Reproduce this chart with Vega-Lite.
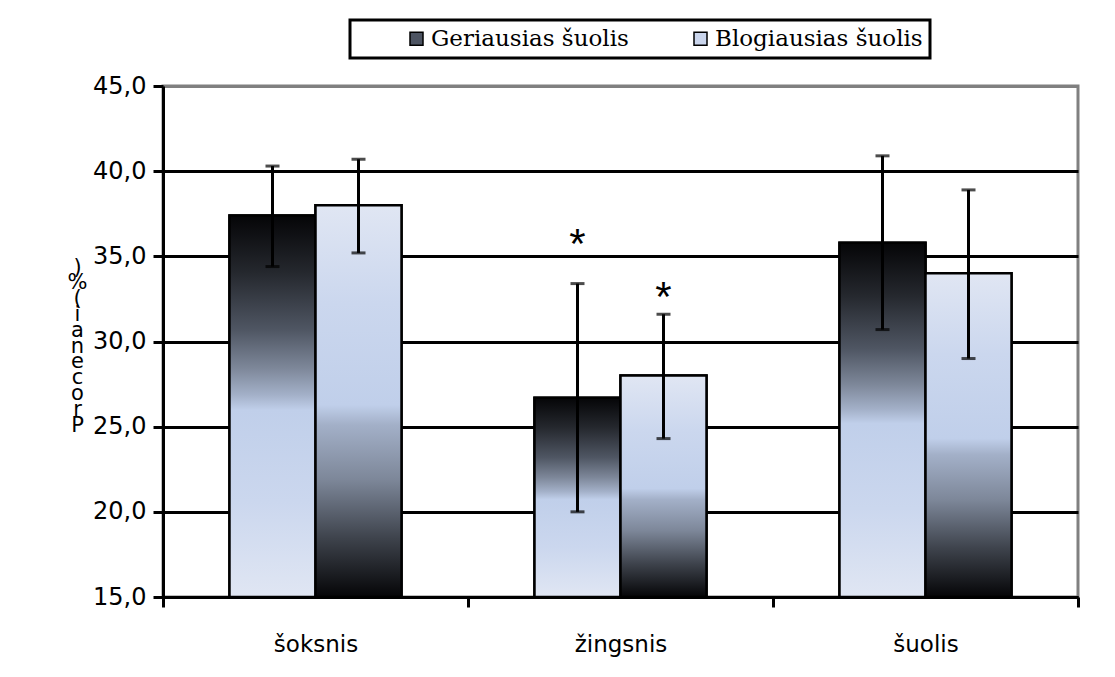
{
  "$schema": "https://vega.github.io/schema/vega-lite/v6.json",
  "width": 915,
  "height": 511,
  "autosize": {"type": "none"},
  "padding": {"left": 163, "top": 86, "right": 37, "bottom": 80},
  "background": "white",
  "config": {
    "view": {"stroke": "#808080", "strokeWidth": 3},
    "font": "DejaVu Sans"
  },
  "data": {
    "values": [
      {"cat": "šoksnis", "series": "Geriausias šuolis", "mean": 37.4, "lo": 34.4, "hi": 40.3, "star": null},
      {"cat": "šoksnis", "series": "Blogiausias šuolis", "mean": 38.0, "lo": 35.2, "hi": 40.7, "star": null},
      {"cat": "žingsnis", "series": "Geriausias šuolis", "mean": 26.7, "lo": 20.0, "hi": 33.4, "star": 36.0},
      {"cat": "žingsnis", "series": "Blogiausias šuolis", "mean": 28.0, "lo": 24.3, "hi": 31.6, "star": 32.9},
      {"cat": "šuolis", "series": "Geriausias šuolis", "mean": 35.8, "lo": 30.7, "hi": 40.9, "star": null},
      {"cat": "šuolis", "series": "Blogiausias šuolis", "mean": 34.0, "lo": 29.0, "hi": 38.9, "star": null}
    ]
  },
  "encoding": {
    "x": {
      "field": "cat",
      "type": "nominal",
      "sort": ["šoksnis", "žingsnis", "šuolis"],
      "scale": {"paddingInner": 0, "paddingOuter": 0},
      "axis": {
        "title": null,
        "labelAngle": 0,
        "labelFont": "DejaVu Sans",
        "labelFontSize": 23,
        "labelColor": "black",
        "labelPadding": 26,
        "tickBand": "extent",
        "ticks": true,
        "tickSize": 10,
        "tickWidth": 3,
        "tickColor": "black",
        "domainColor": "black",
        "domainWidth": 3,
        "grid": false
      }
    },
    "xOffset": {
      "field": "series",
      "type": "nominal",
      "sort": ["Geriausias šuolis", "Blogiausias šuolis"],
      "scale": {"paddingInner": 0, "paddingOuter": 0.773}
    },
    "y": {
      "field": "mean",
      "type": "quantitative",
      "scale": {"domain": [15, 45], "nice": false, "zero": false},
      "axis": {
        "values": [15, 20, 25, 30, 35, 40, 45],
        "labelExpr": "replace(format(datum.value, '.1f'), '.', ',')",
        "labelFont": "DejaVu Sans",
        "labelFontSize": 24,
        "labelColor": "black",
        "labelPadding": 7,
        "tickSize": 10,
        "tickWidth": 3,
        "tickColor": "black",
        "domainColor": "black",
        "domainWidth": 3,
        "grid": true,
        "gridColor": {"condition": {"test": "datum.value == 45", "value": "#808080"}, "value": "black"},
        "gridWidth": 3,
        "title": [")", "%", "(", "i", "a", "n", "e", "c", "o", "r", "P"],
        "titleAngle": 0,
        "titleFont": "DejaVu Sans",
        "titleFontSize": 21,
        "titleFontWeight": "normal",
        "titleColor": "black",
        "titleLineHeight": 15.8,
        "titleX": -86,
        "titleY": 170,
        "titleAlign": "center",
        "titleBaseline": "top"
      }
    }
  },
  "layer": [
    {
      "mark": {"type": "bar", "stroke": "black", "strokeWidth": 2.5},
      "encoding": {
        "y2": {"datum": 15},
        "fill": {
          "field": "series",
          "type": "nominal",
          "sort": ["Geriausias šuolis", "Blogiausias šuolis"],
          "scale": {"domain": ["Geriausias šuolis", "Blogiausias šuolis"], "range": ["#4d5462", "#cad5ec"]},
          "legend": {
            "title": null,
            "orient": "none",
            "legendX": 187,
            "legendY": -66,
            "direction": "horizontal",
            "padding": 7,
            "strokeColor": "black",
            "fillColor": "white",
            "symbolType": "square",
            "symbolSize": 169,
            "symbolOffset": 48,
            "symbolStrokeColor": "black",
            "symbolStrokeWidth": 1.5,
            "labelFont": "DejaVu Serif",
            "labelFontSize": 23,
            "labelColor": "black",
            "labelOffset": 3,
            "labelLimit": 400,
            "columnPadding": 12,
            "encode": {"legend": {"update": {"strokeWidth": {"value": 3}}}}
          }
        }
      }
    },
    {
      "mark": {"type": "bar", "stroke": "black", "strokeWidth": 2.5},
      "encoding": {
        "y2": {"datum": 15},
        "fill": {
          "condition": {
            "test": "datum.series === 'Geriausias šuolis'",
            "value": {"gradient": "linear", "x1": 0, "y1": 0, "x2": 0, "y2": 1,
              "stops": [
                {"offset": 0, "color": "#050507"},
                {"offset": 0.15, "color": "#25282e"},
                {"offset": 0.3, "color": "#4f5663"},
                {"offset": 0.4, "color": "#7d8799"},
                {"offset": 0.47, "color": "#a3b0c8"},
                {"offset": 0.51, "color": "#c0cfea"},
                {"offset": 0.75, "color": "#cbd7ee"},
                {"offset": 1, "color": "#e0e6f3"}
              ]}
          },
          "value": {"gradient": "linear", "x1": 0, "y1": 0, "x2": 0, "y2": 1,
            "stops": [
              {"offset": 0, "color": "#e0e6f3"},
              {"offset": 0.25, "color": "#cbd7ee"},
              {"offset": 0.51, "color": "#c0cfea"},
              {"offset": 0.56, "color": "#a3b0c8"},
              {"offset": 0.7, "color": "#7d8799"},
              {"offset": 0.85, "color": "#3e434c"},
              {"offset": 1, "color": "#050507"}
            ]}
        }
      }
    },
    {
      "mark": {"type": "rule", "stroke": "black", "strokeWidth": 3},
      "encoding": {
        "y": {"field": "lo", "type": "quantitative"},
        "y2": {"field": "hi"}
      }
    },
    {
      "mark": {"type": "tick", "color": "black", "size": 14, "thickness": 3, "orient": "horizontal"},
      "encoding": {"y": {"field": "lo", "type": "quantitative"}}
    },
    {
      "mark": {"type": "tick", "color": "black", "size": 14, "thickness": 3, "orient": "horizontal"},
      "encoding": {"y": {"field": "hi", "type": "quantitative"}}
    },
    {
      "transform": [{"filter": "datum.star != null"}],
      "mark": {"type": "text", "font": "Liberation Sans", "fontSize": 42, "color": "black", "baseline": "middle", "dy": 6},
      "encoding": {
        "y": {"field": "star", "type": "quantitative"},
        "text": {"value": "*"}
      }
    }
  ]
}
